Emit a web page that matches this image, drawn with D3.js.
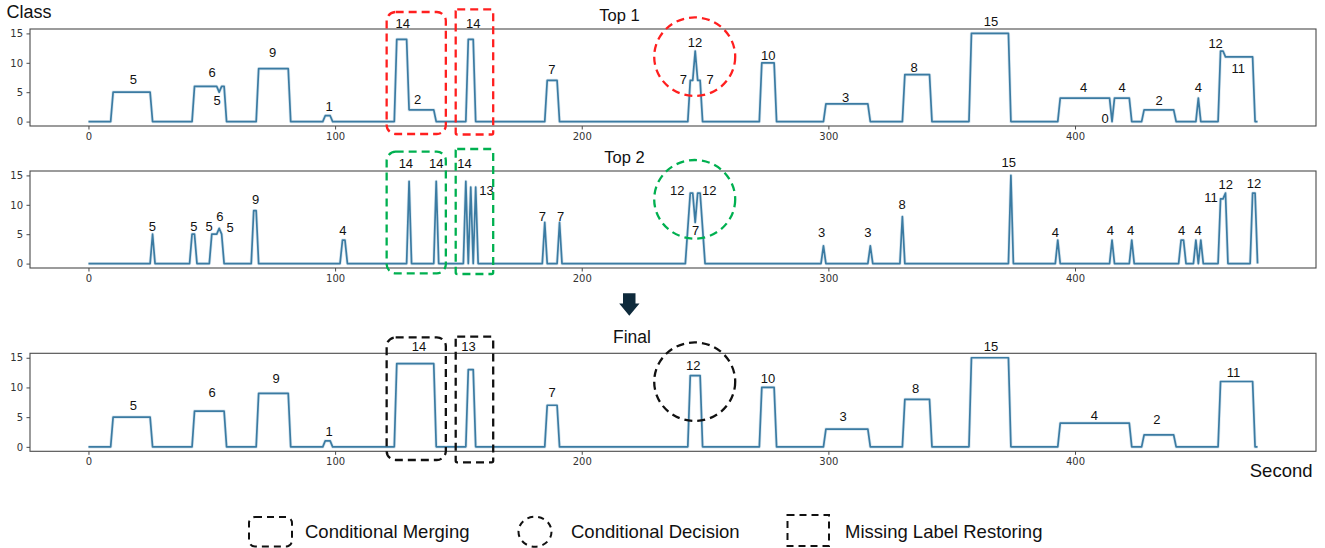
<!DOCTYPE html>
<html>
<head>
<meta charset="utf-8">
<script src="https://cdn.jsdelivr.net/npm/d3@7"></script>
<style>
  html, body { margin: 0; padding: 0; background: #fff; }
  svg { display: block; }
</style>
</head>
<body>
<svg id="chart" width="1325" height="548"></svg>
<script>
// ---------------- DATA ----------------
const xTicks = [0, 100, 200, 300, 400];
const yTicks = [0, 5, 10, 15];

// [second, class]
const top1Series = [
  [0,0],[9,0],[10,5],[25,5],[26,0],[42,0],[43,6],[52,6],[53,5],[54,6],[55,6],[56,0],
  [68,0],[69,9],[81,9],[82,0],[95,0],[96,1],[98,1],[99,0],[124,0],[125,14],[129,14],
  [130,2],[140,2],[141,0],[153,0],[154,14],[156,14],[157,0],[185,0],[186,7],[190,7],
  [191,0],[243,0],[244,7],[245,7],[246,12],[247,7],[248,7],[249,0],[272,0],[273,10],
  [278,10],[279,0],[298,0],[299,3],[316,3],[317,0],[330,0],[331,8],[341,8],[342,0],
  [357,0],[358,15],[373,15],[374,0],[393,0],[394,4],[414,4],[415,0],[416,4],[422,4],
  [423,0],[427,0],[428,2],[440,2],[441,0],[449,0],[450,4],[451,0],[458,0],[459,12],
  [460,12],[461,11],[472,11],[473,0],[474,0]
];
const top2Series = [
  [0,0],[25,0],[26,5],[27,0],[41,0],[42,5],[43,5],[44,0],[49,0],[50,5],[52,5],[53,6],
  [54,5],[55,0],[66,0],[67,9],[68,9],[69,0],[102,0],[103,4],[104,4],[105,0],[129,0],
  [130,14],[131,0],[140,0],[141,14],[142,0],[152,0],[153,14],[154,0],[155,13],[156,0],
  [157,13],[158,0],[184,0],[185,7],[186,0],[190,0],[191,7],[192,0],[242,0],[244,12],
  [245,12],[246,7],[247,12],[248,12],[250,0],[297,0],[298,3],[299,0],[316,0],[317,3],
  [318,0],[329,0],[330,8],[331,0],[373,0],[374,15],[375,0],[392,0],[393,4],[394,0],
  [414,0],[415,4],[416,0],[422,0],[423,4],[424,0],[442,0],[443,4],[444,4],[445,0],
  [448,0],[449,4],[450,0],[451,4],[452,0],[458,0],[459,11],[460,11],[461,12],[462,0],
  [471,0],[472,12],[473,12],[474,0]
];
const finalSeries = [
  [0,0],[9,0],[10,5],[25,5],[26,0],[42,0],[43,6],[55,6],[56,0],[68,0],[69,9],[81,9],
  [82,0],[95,0],[96,1],[98,1],[99,0],[124,0],[125,14],[140,14],[141,0],[153,0],[154,13],
  [156,13],[157,0],[185,0],[186,7],[190,7],[191,0],[243,0],[244,12],[248,12],[249,0],
  [272,0],[273,10],[278,10],[279,0],[298,0],[299,3],[316,3],[317,0],[330,0],[331,8],
  [341,8],[342,0],[357,0],[358,15],[373,15],[374,0],[393,0],[394,4],[422,4],[423,0],
  [427,0],[428,2],[440,2],[441,0],[458,0],[459,11],[472,11],[473,0],[474,0]
];

// annotation labels: [second, class-height, text]
const top1Labels = [
  [18.2,7.2,"5"],[50.1,8.3,"6"],[52.2,3.55,"5"],[74.7,11.7,"9"],[97.6,2.65,"1"],
  [127.4,16.7,"14"],[133.5,3.8,"2"],[156.0,16.8,"14"],[187.9,8.9,"7"],[245.9,13.4,"12"],
  [241.2,7.2,"7"],[252.0,7.2,"7"],[275.6,11.2,"10"],[307.0,4.2,"3"],[334.8,9.2,"8"],
  [365.9,17.0,"15"],[403.5,5.8,"4"],[412.2,0.56,"0"],[419.1,5.8,"4"],[434.1,3.55,"2"],
  [450.0,5.8,"4"],[457.0,13.25,"12"],[466.2,9.06,"11"]
];
const top2Labels = [
  [25.9,6.4,"5"],[42.7,6.4,"5"],[48.9,6.4,"5"],[53.3,8.0,"6"],[57.4,6.2,"5"],
  [67.8,11.0,"9"],[103.1,5.6,"4"],[128.7,17.06,"14"],[141.0,17.06,"14"],[152.5,17.06,"14"],
  [161.4,12.5,"13"],[184.0,8.1,"7"],[191.4,8.1,"7"],[238.7,12.5,"12"],[251.7,12.5,"12"],
  [246.2,5.6,"7"],[297.3,5.4,"3"],[316.0,5.4,"3"],[329.9,10.0,"8"],[373.1,17.3,"15"],
  [392.0,5.4,"4"],[414.3,5.7,"4"],[422.5,5.7,"4"],[443.2,5.7,"4"],[449.9,5.7,"4"],
  [455.1,11.3,"11"],[461.1,13.5,"12"],[472.6,13.7,"12"]
];
const finalLabels = [
  [18.2,6.96,"5"],[50.1,9.2,"6"],[76.1,11.5,"9"],[97.6,2.6,"1"],[134.0,16.9,"14"],
  [154.1,16.9,"13"],[188.0,9.2,"7"],[245.2,13.76,"12"],[275.5,11.5,"10"],[306.0,5.1,"3"],
  [335.4,9.85,"8"],[365.9,17.0,"15"],[407.8,5.25,"4"],[433.2,4.6,"2"],[464.3,12.6,"11"]
];

const panelTitles = ["Top 1", "Top 2", "Final"];
const legendLabels = ["Conditional Merging", "Conditional Decision", "Missing Label Restoring"];

// ---------------- LAYOUT ----------------
const svg = d3.select("#chart");
const left = 30, right = 1316;
const panels = [
  { title: panelTitles[0], top: 29, bottom: 126, series: top1Series, labels: top1Labels,
    color: "#ff1f1f", titleX: 619.5, titleY: 20.7, titleSize: 16.5,
    box1: [12, 134], box2: [9.3, 134.5], circ: 56.7 },
  { title: panelTitles[1], top: 171, bottom: 268, series: top2Series, labels: top2Labels,
    color: "#00b050", titleX: 624.5, titleY: 163.3, titleSize: 16.5,
    box1: [151.7, 273.3], box2: [149, 274], circ: 199.3 },
  { title: panelTitles[2], top: 353.3, bottom: 451.3, series: finalSeries, labels: finalLabels,
    color: "#111111", titleX: 632, titleY: 343, titleSize: 17.5,
    box1: [337.3, 460], box2: [336.7, 462.3], circ: 381.7 }
];

const x = d3.scaleLinear().domain([-23.7, 497.7]).range([left, right]);
const lineColor = "#3b7ba2";

panels.forEach(p => {
  const y = d3.scaleLinear().domain([-0.75, 15.75]).range([p.bottom, p.top]);
  const g = svg.append("g");

  // frame
  g.append("rect")
    .attr("x", left).attr("y", p.top)
    .attr("width", right - left).attr("height", p.bottom - p.top)
    .attr("fill", "none").attr("stroke", "#4a4a4a").attr("stroke-width", 1.1);

  // axes
  const xa = g.append("g").attr("transform", `translate(0,${p.bottom})`)
    .call(d3.axisBottom(x).tickValues(xTicks).tickSize(3.5).tickPadding(3.5));
  const ya = g.append("g").attr("transform", `translate(${left},0)`)
    .call(d3.axisLeft(y).tickValues(yTicks).tickSize(3.5).tickPadding(3.5));
  [xa, ya].forEach(a => {
    a.select(".domain").remove();
    a.selectAll("line").attr("stroke", "#4a4a4a");
    a.selectAll("text").attr("fill", "#333").style("font-family", "DejaVu Sans, sans-serif")
      .style("font-size", "10px");
  });

  // series line
  const line = d3.line().x(d => x(d[0])).y(d => y(d[1]));
  g.append("path").datum(p.series)
    .attr("d", line).attr("fill", "none")
    .attr("stroke", "#a9c8dc").attr("stroke-width", 3.2).attr("stroke-opacity", 0.45)
    .attr("stroke-linejoin", "round");
  g.append("path").datum(p.series)
    .attr("d", line).attr("fill", "none")
    .attr("stroke", lineColor).attr("stroke-width", 1.7)
    .attr("stroke-linejoin", "round");

  // class labels
  g.selectAll("text.lab").data(p.labels).enter().append("text")
    .attr("class", "lab")
    .attr("x", d => x(d[0])).attr("y", d => y(d[1]))
    .attr("dy", "0.36em").attr("text-anchor", "middle")
    .style("font-family", "Liberation Sans, Arial, sans-serif")
    .style("font-size", "13px").attr("fill", "#111")
    .text(d => d[2]);

  // title
  g.append("text").attr("x", p.titleX).attr("y", p.titleY)
    .attr("text-anchor", "middle")
    .style("font-family", "Liberation Sans, Arial, sans-serif")
    .style("font-size", p.titleSize + "px").attr("fill", "#111")
    .text(p.title);

  // annotation boxes and circle
  const dash = "8,5";
  g.append("rect")
    .attr("x", x(120.9)).attr("y", p.box1[0])
    .attr("width", x(144.9) - x(120.9)).attr("height", p.box1[1] - p.box1[0])
    .attr("rx", 9).attr("ry", 9)
    .attr("fill", "none").attr("stroke", p.color).attr("stroke-width", 2.3)
    .attr("stroke-dasharray", dash);
  g.append("rect")
    .attr("x", x(148.9)).attr("y", p.box2[0])
    .attr("width", x(164.1) - x(148.9)).attr("height", p.box2[1] - p.box2[0])
    .attr("rx", 1.5).attr("ry", 1.5)
    .attr("fill", "none").attr("stroke", p.color).attr("stroke-width", 2.3)
    .attr("stroke-dasharray", dash);
  g.append("ellipse")
    .attr("cx", x(245.8)).attr("cy", p.circ).attr("rx", 40.5).attr("ry", 39.3)
    .attr("fill", "none").attr("stroke", p.color).attr("stroke-width", 2.3)
    .attr("stroke-dasharray", dash);
});

// axis titles
svg.append("text").attr("x", 6.5).attr("y", 18.3)
  .style("font-family", "Liberation Sans, Arial, sans-serif").style("font-size", "18px")
  .attr("fill", "#111").text("Class");
svg.append("text").attr("x", 1312.5).attr("y", 476.7).attr("text-anchor", "end")
  .style("font-family", "Liberation Sans, Arial, sans-serif").style("font-size", "18.5px")
  .attr("fill", "#111").text("Second");

// down arrow
svg.append("path")
  .attr("d", "M623,293.3 L635.5,293.3 L635.5,303.5 L639.5,303.5 L629.3,315.7 L619.2,303.5 L623,303.5 Z")
  .attr("fill", "#0e2a3b");

// legend
const lg = svg.append("g");
const ldash = "7,5";
lg.append("rect").attr("x", 249).attr("y", 517).attr("width", 43).attr("height", 29.5)
  .attr("rx", 6).attr("fill", "none").attr("stroke", "#111").attr("stroke-width", 2)
  .attr("stroke-dasharray", ldash);
lg.append("ellipse").attr("cx", 535).attr("cy", 531.7).attr("rx", 16.5).attr("ry", 15)
  .attr("fill", "none").attr("stroke", "#111").attr("stroke-width", 2)
  .attr("stroke-dasharray", "6,5");
lg.append("rect").attr("x", 787.5).attr("y", 515).attr("width", 41.5).attr("height", 31)
  .attr("fill", "none").attr("stroke", "#111").attr("stroke-width", 2)
  .attr("stroke-dasharray", ldash);
const legX = [305, 571, 845];
lg.selectAll("text.leg").data(legendLabels).enter().append("text")
  .attr("class", "leg")
  .attr("x", (d, i) => legX[i]).attr("y", 537.5)
  .style("font-family", "Liberation Sans, Arial, sans-serif").style("font-size", "18.5px")
  .attr("fill", "#111").text(d => d);
</script>
</body>
</html>
